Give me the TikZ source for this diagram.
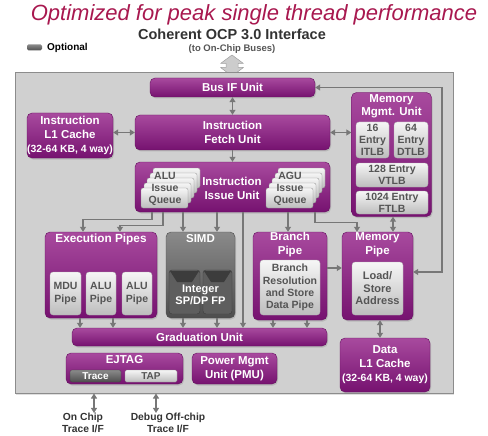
\documentclass[tikz,border=0pt]{standalone}
\usepackage{fontspec}
\setmainfont{Liberation Sans}
\usetikzlibrary{shadows,arrows.meta}
\definecolor{magT}{HTML}{A84A9E}
\definecolor{magB}{HTML}{761270}
\definecolor{magE}{HTML}{65105F}
\definecolor{ttl}{HTML}{A8184F}
\definecolor{boxfill}{HTML}{D0D0D0}
\definecolor{boxline}{HTML}{8C8C8C}
\definecolor{lnkc}{HTML}{777777}
\definecolor{inT}{HTML}{F6F6F6}
\definecolor{inB}{HTML}{BDBDBD}
\definecolor{inTxt}{HTML}{555555}
\definecolor{simdT}{HTML}{8A8A8A}
\definecolor{simdB}{HTML}{4E4E4E}
\definecolor{simdC}{HTML}{5E5E5E}
\definecolor{simdD}{HTML}{3C3C3C}
\newcommand\fsz[2]{\fontsize{#1}{#2}\selectfont\bfseries}
\tikzset{
  magbox/.style={rounded corners=5pt, top color=magT, bottom color=magB, draw=magE, line width=0.4pt,
    text=white, align=center, inner sep=0pt,
    drop shadow={shadow xshift=1pt, shadow yshift=-1.5pt, opacity=0.3}},
  inbox/.style={rounded corners=3pt, top color=inT, bottom color=inB, draw=boxline!70, line width=0.3pt,
    text=inTxt, align=center, inner sep=0pt},
  card/.style={rounded corners=2pt, top color=inT, bottom color=inB, draw=boxline, line width=0.3pt,
    minimum width=47pt, minimum height=20pt, inner sep=0pt},
  wlbl/.style={text=white, align=center, inner sep=0pt},
  glbl/.style={text=inTxt, align=center, inner sep=0pt},
  lnk/.style={draw=lnkc, line width=1.1pt, -{Triangle[length=5pt,width=6pt]}},
  dlnk/.style={draw=lnkc, line width=1.1pt, {Triangle[length=5pt,width=6pt]}-{Triangle[length=5pt,width=6pt]}},
}
\begin{document}
\begin{tikzpicture}[x=1pt,y=-1pt]
\useasboundingbox (0,0) rectangle (488,436);
% header
\node[text=ttl, font=\fontsize{22}{24}\selectfont\itshape, inner sep=0pt] (title) at (254,15) {Optimized for peak single thread performance};
\node[text=black!80, font=\fsz{14.5}{16}, inner sep=0pt] (ocp) at (232,34) {Coherent OCP 3.0 Interface};
\node[text=inTxt, font=\fsz{9.5}{11}, inner sep=0pt] (ocpsub) at (232,49) {(to On-Chip Buses)};
\node[rounded corners=1.5pt, top color=simdT, bottom color=simdB, minimum width=15pt, minimum height=6pt, inner sep=0pt] (legbox) at (34.5,47.5) {};
\node[anchor=west, font=\fsz{10}{12}, inner sep=0pt] (legtxt) at (47,48) {Optional};
\filldraw[fill=gray!40, draw=gray!75, line width=0.5pt, line join=round]
  (232,55) -- (243.5,63.5) -- (238,63.5) -- (238,67.5) -- (243.5,67.5) -- (232,76)
  -- (220.5,67.5) -- (226,67.5) -- (226,63.5) -- (220.5,63.5) -- cycle;
% chip outline
\node[fill=boxfill, draw=boxline, line width=1pt, minimum width=438pt, minimum height=320pt, inner sep=0pt,
  drop shadow={shadow xshift=1pt, shadow yshift=-1.5pt, opacity=0.25}] (chip) at (234,233) {};
% top row
\node[magbox, minimum width=165pt, minimum height=19pt, font=\fsz{11.5}{13}] (busif) at (232.5,87.5) {Bus IF Unit};
\node[magbox, minimum width=86pt, minimum height=45pt, font=\fsz{11.5}{14}] (il1) at (70,135.5)
  {Instruction\\L1 Cache\\{\fsz{10.4}{14}(32-64 KB, 4 way)}};
\node[magbox, minimum width=195pt, minimum height=35pt, font=\fsz{11.5}{14}] (ifu) at (232.5,132.5) {Instruction\\Fetch Unit};
% MMU
\node[magbox, minimum width=80pt, minimum height=124pt] (mmu) at (391.5,154.5) {};
\node[wlbl, font=\fsz{11.5}{13}] (mmut) at (391.5,106.5) {Memory\\Mgmt. Unit};
\node[inbox, minimum width=33pt, minimum height=36pt, font=\fsz{10.5}{12}] (itlb) at (372.5,140) {16\\Entry\\ITLB};
\node[inbox, minimum width=34pt, minimum height=36pt, font=\fsz{10.5}{12}] (dtlb) at (411,140) {64\\Entry\\DTLB};
\node[inbox, minimum width=72pt, minimum height=24pt, font=\fsz{10.5}{12}] (vtlb) at (392,175) {128 Entry\\VTLB};
\node[inbox, minimum width=72pt, minimum height=23pt, font=\fsz{10.5}{12}] (ftlb) at (392,202.5) {1024 Entry\\FTLB};
% issue unit
\node[magbox, minimum width=195pt, minimum height=50pt] (iiu) at (232.5,187) {};
\node[wlbl, font=\fsz{11.5}{13.5}] (iiut) at (232,188.5) {Instruction\\Issue Unit};
\foreach \i in {4,3,2,1,0}{
  \node[card] (aluc\i) at (164.5+3*\i,198-5*\i) {};
  \node[card] (aguc\i) at (289.5+3*\i,198-5*\i) {};
}
\node[glbl, font=\fsz{10.5}{12}] (aluqt) at (165,189) {ALU\\Issue\\Queue};
\node[glbl, font=\fsz{10.5}{12}] (aguqt) at (290,189) {AGU\\Issue\\Queue};
% execution pipes
\node[magbox, minimum width=112pt, minimum height=86pt] (exe) at (101,275) {};
\node[wlbl, font=\fsz{11.8}{13}] (exet) at (101,239) {Execution Pipes};
\node[inbox, minimum width=31pt, minimum height=43pt, font=\fsz{10.5}{13}] (mdu) at (65.5,293.5) {MDU\\Pipe};
\node[inbox, minimum width=30pt, minimum height=43pt, font=\fsz{10.5}{13}] (alua) at (101,293.5) {ALU\\Pipe};
\node[inbox, minimum width=30pt, minimum height=43pt, font=\fsz{10.5}{13}] (alub) at (137,293.5) {ALU\\Pipe};
% SIMD
\node[rounded corners=5pt, top color=simdT, bottom color=simdB, draw=simdB, line width=0.4pt, minimum width=69pt, minimum height=86pt,
  inner sep=0pt, drop shadow={shadow xshift=1pt, shadow yshift=-1.5pt, opacity=0.3}] (simd) at (200.5,275) {};
\node[wlbl, font=\fsz{11.5}{13}] (simdt) at (200.5,239) {SIMD};
\node[rounded corners=3pt, fill=simdC, draw=simdD, line width=0.4pt, minimum width=31pt, minimum height=44pt, inner sep=0pt] (simda) at (184.5,292) {};
\node[rounded corners=3pt, fill=simdC, draw=simdD, line width=0.4pt, minimum width=29pt, minimum height=44pt, inner sep=0pt] (simdb) at (217.5,292) {};
\fill[simdD] (170,271) -- (199,271) -- (192,282) -- (177,282) -- cycle;
\fill[simdD] (204,271) -- (231,271) -- (224,282) -- (211,282) -- cycle;
\node[wlbl, font=\fsz{11}{12}] (simdtx) at (200.5,295) {Integer\\SP/DP FP};
% branch pipe
\node[magbox, minimum width=74pt, minimum height=88pt] (br) at (290,276) {};
\node[wlbl, font=\fsz{11.5}{14}] (brt) at (290,245) {Branch\\Pipe};
\node[inbox, minimum width=60pt, minimum height=55pt, font=\fsz{10.5}{12.4}] (brin) at (290,287.5) {Branch\\Resolution\\and Store\\Data Pipe};
% memory pipe
\node[magbox, minimum width=71pt, minimum height=88pt] (mp) at (377.5,276) {};
\node[wlbl, font=\fsz{11.5}{14}] (mpt) at (377.5,245) {Memory\\Pipe};
\node[inbox, minimum width=51pt, minimum height=53pt, font=\fsz{11}{12.5}] (mpin) at (377.5,288.5) {Load/\\Store\\Address};
% graduation etc
\node[magbox, minimum width=255pt, minimum height=18pt, font=\fsz{11.5}{13}] (grad) at (199.5,337) {Graduation Unit};
\node[magbox, minimum width=90pt, minimum height=54pt, font=\fsz{11.5}{14}] (dl1) at (385,365) {Data\\L1 Cache\\{\fsz{10.4}{14}(32-64 KB, 4 way)}};
\node[magbox, minimum width=117pt, minimum height=31pt] (ejtag) at (124.5,368.5) {};
\node[wlbl, font=\fsz{11.5}{13}] (ejtagt) at (124.5,360) {EJTAG};
\node[rounded corners=1.5pt, top color=simdT, bottom color=simdB, draw=simdD, line width=0.3pt, minimum width=51pt, minimum height=12pt,
  inner sep=0pt, text=white, font=\fsz{10}{11}] (trace) at (95.5,376) {Trace};
\node[rounded corners=1.5pt, top color=inT, bottom color=inB, draw=boxline, line width=0.3pt, minimum width=52pt, minimum height=12pt,
  inner sep=0pt, text=inTxt, font=\fsz{10}{11}] (tap) at (151,376) {TAP};
\node[magbox, minimum width=85pt, minimum height=31pt, font=\fsz{11.5}{14}] (pmu) at (234.5,368.5) {Power Mgmt\\Unit (PMU)};
% bottom labels
\node[text=black!80, align=center, inner sep=0pt, font=\fsz{10.3}{12}] (onchip) at (83,423) {On Chip\\Trace I/F};
\node[text=black!80, align=center, inner sep=0pt, font=\fsz{10.3}{12}] (debug) at (168,423) {Debug Off-chip\\Trace I/F};
% connectors
\draw[dlnk] (busif.south) -- (ifu.north);
\draw[dlnk] (ifu.west) -- (ifu.west -| il1.east);
\draw[dlnk] (ifu.east) -- (ifu.east -| mmu.west);
\draw[lnk] (ifu.south) -- (iiu.north);
\coordinate (rc1) at (442,87.5);
\coordinate (rc2) at (442,272);
\draw[dlnk] (busif.east) -- (rc1) -- (rc2) -- (rc2 -| mp.east);
\coordinate (qa) at (152,0);
\coordinate (qb) at (163,0);
\coordinate (ea) at (83,0);
\coordinate (eb) at (120,0);
\draw[lnk] (qa |- iiu.south) -- ++(0,7) -| (ea |- exe.north);
\draw[lnk] (qb |- iiu.south) -- ++(0,13) -| (eb |- exe.north);
\coordinate (sa) at (183,0);
\coordinate (sb) at (217,0);
\draw[lnk] (sa |- iiu.south) -- (sa |- simd.north);
\draw[lnk] (sb |- iiu.south) -- (sb |- simd.north);
\coordinate (gl) at (243,0);
\draw[lnk] (gl |- iiu.south) -- (gl |- grad.north);
\coordinate (bx) at (288,0);
\draw[lnk] (bx |- iiu.south) -- (bx |- br.north);
\coordinate (ma) at (315,0);
\coordinate (mb) at (357,0);
\draw[lnk] (ma |- iiu.south) -- ++(0,10) -| (mb |- mp.north);
\coordinate (mm) at (393,0);
\draw[dlnk] (mm |- mmu.south) -- (mm |- mp.north);
\coordinate (bm) at (0,268);
\draw[lnk] (bm -| br.east) -- (bm -| mp.west);
\foreach \xx/\src in {80/exe,113/exe,183/simd,217/simd,273/br,307/br}{
  \coordinate (gg) at (\xx,0);
  \draw[lnk] (gg |- \src.south) -- (gg |- grad.north);
}
\coordinate (md) at (380,0);
\draw[dlnk] (md |- mp.south) -- (md |- dl1.north);
\coordinate (ta) at (94,0);
\coordinate (tb) at (156,0);
\draw[dlnk] (ta |- chip.south) -- (ta |- onchip.north);
\draw[dlnk] (tb |- chip.south) -- (tb |- debug.north);
\end{tikzpicture}
\end{document}
